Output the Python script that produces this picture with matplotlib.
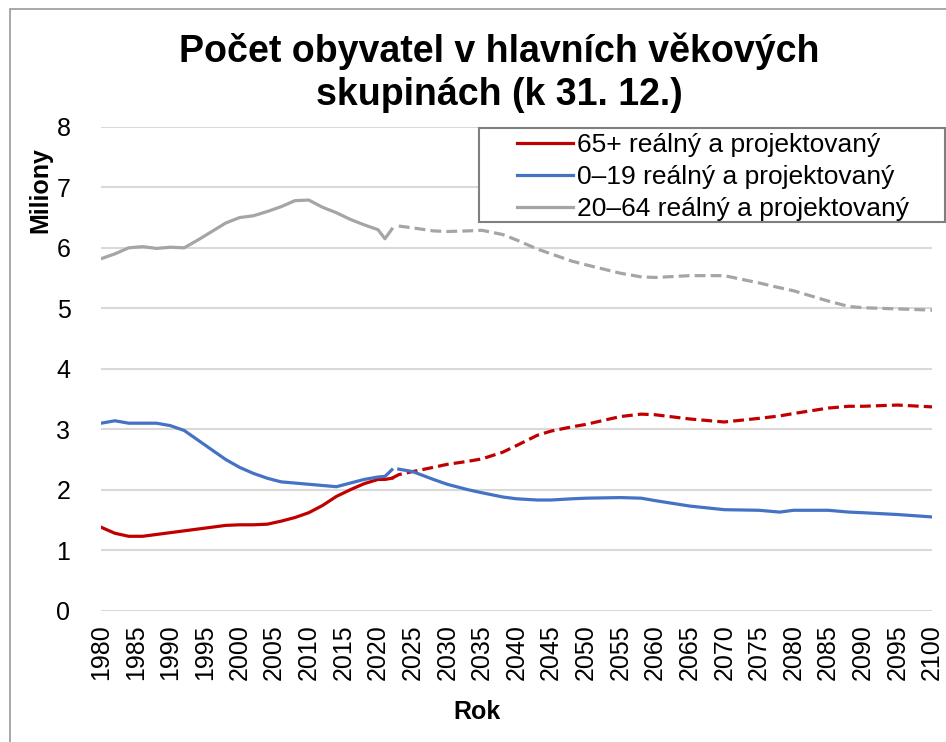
import matplotlib.pyplot as plt
from matplotlib.patches import Rectangle

plt.rcParams['font.family'] = ['Liberation Sans', 'DejaVu Sans']

# real data (1980-2022), millions
hist_years = [1980, 1982, 1984, 1986, 1988, 1990, 1992, 1994, 1996, 1998, 2000,
              2002, 2004, 2006, 2008, 2010, 2012, 2014, 2016, 2018, 2020, 2021, 2022]
hist_65 = [1.38, 1.28, 1.23, 1.23, 1.26, 1.29, 1.32, 1.35, 1.38, 1.41, 1.42,
           1.42, 1.43, 1.48, 1.54, 1.62, 1.74, 1.89, 2.00, 2.10, 2.17, 2.17, 2.19]
hist_0_19 = [3.10, 3.14, 3.10, 3.10, 3.10, 3.06, 2.98, 2.82, 2.66, 2.50, 2.37,
             2.27, 2.19, 2.13, 2.11, 2.09, 2.07, 2.05, 2.11, 2.17, 2.21, 2.22, 2.33]
hist_20_64 = [5.82, 5.90, 6.00, 6.02, 5.99, 6.01, 6.00, 6.13, 6.27, 6.41, 6.50,
              6.53, 6.60, 6.68, 6.78, 6.79, 6.67, 6.58, 6.47, 6.38, 6.30, 6.15, 6.31]

# projection (2023-2100), millions
proj_years = [2023, 2025, 2028, 2030, 2033, 2035, 2038, 2040, 2043, 2045, 2048, 2050,
              2055, 2058, 2060, 2065, 2070, 2075, 2078, 2080, 2085, 2088, 2090, 2095, 2100]
proj_65 = [2.25, 2.30, 2.37, 2.42, 2.47, 2.51, 2.62, 2.73, 2.90, 2.97, 3.04, 3.08,
           3.21, 3.25, 3.24, 3.17, 3.12, 3.18, 3.22, 3.26, 3.35, 3.38, 3.38, 3.40, 3.37]
proj_0_19 = [2.34, 2.30, 2.17, 2.09, 2.00, 1.95, 1.88, 1.85, 1.83, 1.83, 1.85, 1.86,
             1.87, 1.86, 1.82, 1.73, 1.67, 1.66, 1.63, 1.66, 1.66, 1.63, 1.62, 1.59, 1.55]
proj_20_64 = [6.36, 6.33, 6.28, 6.27, 6.28, 6.29, 6.22, 6.13, 5.98, 5.90, 5.78, 5.72,
              5.58, 5.52, 5.51, 5.54, 5.54, 5.42, 5.34, 5.29, 5.12, 5.03, 5.01, 4.99, 4.97]

red = '#C00000'
blue = '#4472C4'
grey = '#A5A5A5'
dash = (3.4, 1.6)

W, H = 946, 742
fig = plt.figure(figsize=(9.46, 7.42), dpi=100)
# outer chart border (only top and left edges are visible in the crop)
fig.patches.append(Rectangle((10 / W, -0.1), 1.2, 1 - 9 / H + 0.1, transform=fig.transFigure,
                             fill=False, edgecolor='#9a9a9a', linewidth=1.2))

ax = fig.add_axes([0.1068, 0.177, 0.8784, 0.652])

lw = 2.3
ax.plot(hist_years, hist_65, color=red, lw=lw, label='65+ reálný a projektovaný')
ax.plot(hist_years, hist_0_19, color=blue, lw=lw, label='0–19 reálný a projektovaný')
ax.plot(hist_years, hist_20_64, color=grey, lw=lw, label='20–64 reálný a projektovaný')

# red projection continues straight from the last real point
ax.plot([hist_years[-1]] + proj_years, [hist_65[-1]] + proj_65, color=red, lw=lw, dashes=dash)
ax.plot(proj_years, proj_0_19, color=blue, lw=lw)
ax.plot(proj_years, proj_20_64, color=grey, lw=lw, dashes=dash)

ax.set_xlim(1980, 2100)
ax.set_ylim(0, 8)
ax.set_xticks(range(1980, 2101, 5))
ax.set_yticks(range(0, 9))
ax.tick_params(axis='x', labelrotation=90, labelsize=18, length=0, pad=10)
ax.tick_params(axis='y', labelsize=18, length=0, pad=22)
ax.grid(axis='y', color='#d9d9d9', linewidth=1.5)
ax.set_axisbelow(True)
for s in ax.spines.values():
    s.set_visible(False)

# legend box drawn separately (wide left padding like the original)
fig.patches.append(Rectangle((479 / W, 1 - 222 / H), (945 - 479) / W, (222 - 128) / H,
                             transform=fig.transFigure, facecolor='white',
                             edgecolor='#7f7f7f', linewidth=1.5, zorder=5))
leg = fig.legend(loc='upper left', bbox_to_anchor=(512 / W, 1 - 128 / H), fontsize=19,
                 frameon=False, handlelength=2.1, handletextpad=0.15, labelspacing=0.3,
                 borderpad=0.2, borderaxespad=0)
leg.set_zorder(6)

fig.text(499 / W, 1 - 73 / H, 'Počet obyvatel v hlavních věkových\nskupinách (k 31. 12.)',
         ha='center', va='center', fontsize=27, fontweight='bold', linespacing=1.25)
fig.text(40 / W, 1 - 190 / H, 'Miliony', rotation=90, ha='center', va='center',
         fontsize=18, fontweight='bold')
fig.text(477 / W, 1 - 712 / H, 'Rok', ha='center', va='center',
         fontsize=18, fontweight='bold')

fig.savefig('out.png', dpi=100)
